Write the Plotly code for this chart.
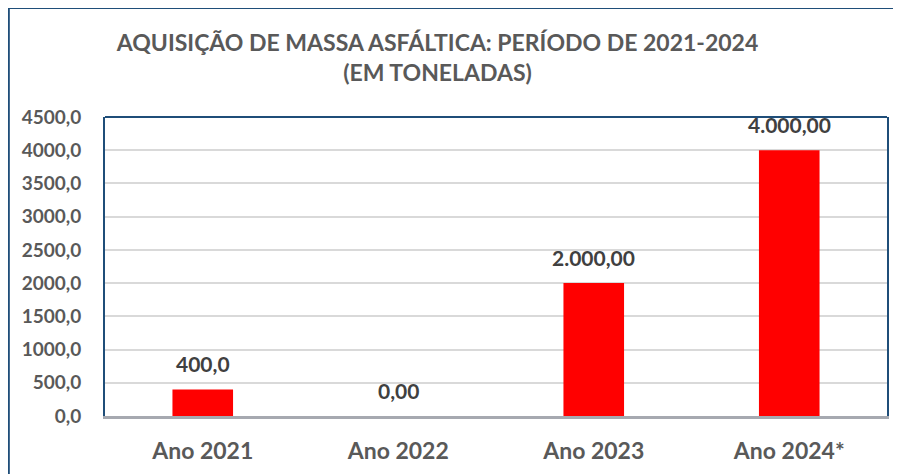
import plotly.graph_objects as go

categories = ["Ano 2021", "Ano 2022", "Ano 2023", "Ano 2024*"]
values = [400.0, 0.0, 2000.0, 4000.0]
value_labels = ["400,0", "0,00", "2.000,00", "4.000,00"]
tick_vals = [0, 500, 1000, 1500, 2000, 2500, 3000, 3500, 4000, 4500]
tick_text = ["0,0", "500,0", "1000,0", "1500,0", "2000,0", "2500,0",
             "3000,0", "3500,0", "4000,0", "4500,0"]

FONT = "Lato"
GREY = "#595959"
BLUE = "#1F4E79"

fig = go.Figure()

fig.add_trace(
    go.Bar(
        x=categories,
        y=values,
        marker=dict(color="#FF0000", line=dict(width=0)),
        showlegend=False,
        hoverinfo="x+y"
    )
)

# value labels above the bars
for cat, val, lab in zip(categories, values, value_labels):
    fig.add_annotation(
        x=cat,
        y=val,
        text=lab,
        showarrow=False,
        yanchor="bottom",
        yshift=11,
        font=dict(family=FONT, size=21, color="#404040", weight="bold")
    )

# the page body adds an 8px margin, so the figure is a bit smaller
fig.update_layout(
    width=893,
    height=466,
    margin=dict(l=97, r=14, t=109, b=58, autoexpand=False),
    paper_bgcolor="white",
    plot_bgcolor="white",
    bargap=0.69,
    title=dict(
        text="AQUISIÇÃO DE MASSA ASFÁLTICA: PERÍODO DE 2021-2024<br>(EM TONELADAS)",
        x=0.481,
        xanchor="center",
        y=0.907,
        yanchor="top",
        font=dict(family=FONT, size=23, color=GREY, weight="bold")
    ),
    font=dict(family=FONT, color=GREY)
)

fig.update_yaxes(
    range=[0, 4500],
    tickvals=tick_vals,
    ticktext=tick_text,
    tickfont=dict(family=FONT, size=19, color=GREY, weight="bold"),
    ticklabelstandoff=18,
    automargin=False,
    showgrid=True,
    gridcolor="#D9D9D9",
    gridwidth=2,
    zeroline=False,
    showline=True,
    linecolor=BLUE,
    linewidth=2,
    mirror=True
)

fig.update_xaxes(
    tickfont=dict(family=FONT, size=23, color=GREY, weight="bold"),
    ticklabelstandoff=12,
    automargin=False,
    showline=True,
    linecolor="#A6A9B0",
    linewidth=3,
    showgrid=False
)

# top edge of plot area and outer frame
fig.add_shape(type="line", xref="paper", yref="paper",
              x0=0, x1=1, y0=1, y1=1,
              line=dict(color=BLUE, width=2))
fig.add_shape(type="rect", xref="paper", yref="paper",
              x0=-0.123, x1=1.1, y0=-0.4, y1=1.3645,
              line=dict(color=BLUE, width=2), layer="below")

fig.write_html("out.html")
